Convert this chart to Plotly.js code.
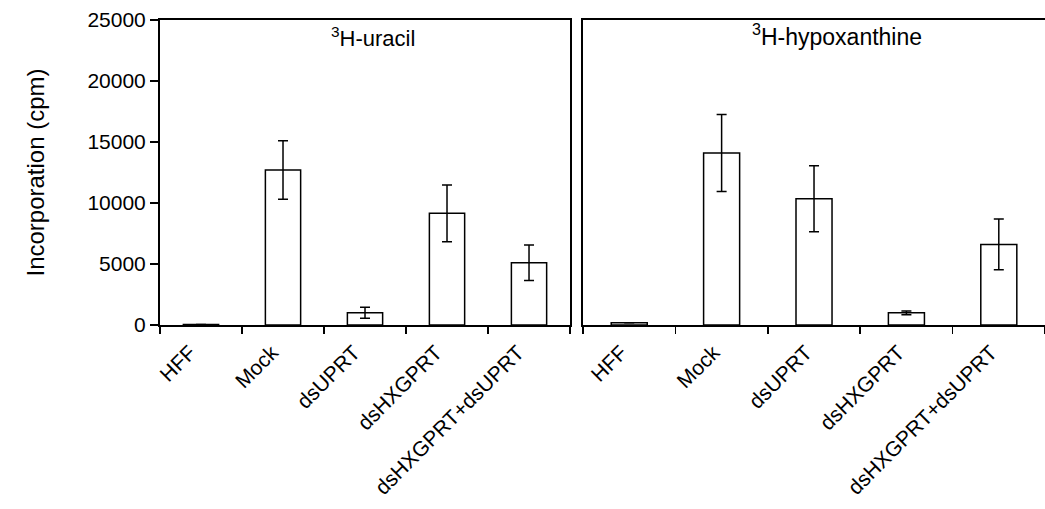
<!DOCTYPE html>
<html>
<head>
<meta charset="utf-8">
<script src="https://cdn.plot.ly/plotly-3.0.1.min.js"></script>
<style>html,body{margin:0;padding:0;background:#fff;}#chart{width:1045px;height:509px;}</style>
</head>
<body>
<div id="chart"></div>
<script>
const categories = ["HFF", "Mock", "dsUPRT", "dsHXGPRT", "dsHXGPRT+dsUPRT"];
const uracilValues = [40, 12700, 1000, 9150, 5100];
const uracilErrors = [0, 2400, 450, 2330, 1450];
const hypoxValues = [180, 14100, 10350, 1000, 6600];
const hypoxErrors = [0, 3150, 2700, 150, 2080];
const yTicks = [0, 5000, 10000, 15000, 20000, 25000];
const panelTitles = ["<sup>3</sup>H-uracil", "<sup>3</sup>H-hypoxanthine"];
const yTitle = "Incorporation (cpm)";

const FONT = "Liberation Sans, Arial, sans-serif";
const barStyle = {color: "#ffffff", line: {color: "#000000", width: 1.5}};
const errStyle = (arr) => ({type: "data", array: arr, visible: true, color: "#000000", thickness: 1.5, width: 5});

const traces = [
  {type: "bar", x: categories, y: uracilValues, error_y: errStyle(uracilErrors), marker: barStyle, width: 0.43, xaxis: "x", yaxis: "y", hoverinfo: "x+y"},
  {type: "bar", x: categories, y: hypoxValues, error_y: errStyle(hypoxErrors), marker: barStyle, width: 0.39, xaxis: "x2", yaxis: "y2", hoverinfo: "x+y"}
];

const xCommon = {
  type: "category", range: [-0.5, 4.5], showline: true, linecolor: "#000", linewidth: 2,
  mirror: true, ticks: "outside", ticklen: 7, tickwidth: 1.5, tickcolor: "#000",
  tickson: "boundaries", tickangle: -45, showgrid: false, zeroline: false,
  ticklabelstandoff: 5,
  tickfont: {family: FONT, size: 21, color: "#000"}
};

const layout = {
  width: 1045, height: 509,
  margin: {l: 160, r: 0, t: 20, b: 184},
  paper_bgcolor: "#fff", plot_bgcolor: "#fff",
  showlegend: false,
  bargap: 0,
  font: {family: FONT, color: "#000"},
  xaxis: Object.assign({}, xCommon, {domain: [0, 0.4633], anchor: "y", ticklabelshift: -11}),
  xaxis2: Object.assign({}, xCommon, {domain: [0.478, 1], anchor: "y2", ticklabelshift: -8}),
  yaxis: {
    range: [0, 25000], tickvals: yTicks, ticktext: yTicks.map(String),
    showline: true, linecolor: "#000", linewidth: 2, mirror: true,
    ticks: "outside", ticklen: 8, tickwidth: 1.5, tickcolor: "#000",
    showgrid: false, zeroline: false,
    tickfont: {family: FONT, size: 21, color: "#000"},
    title: {text: yTitle, font: {family: FONT, size: 24, color: "#000"}, standoff: 36},
    anchor: "x"
  },
  yaxis2: {
    range: [0, 25000], showline: true, linecolor: "#000", linewidth: 2, mirror: false,
    showticklabels: false, ticks: "", showgrid: false, zeroline: false, anchor: "x2"
  },
  annotations: [
    {xref: "x domain", yref: "paper", x: 0.52, y: 0.945, xanchor: "center", yanchor: "middle", text: panelTitles[0], showarrow: false, font: {family: FONT, size: 22, color: "#000"}},
    {xref: "x2 domain", yref: "paper", x: 0.55, y: 0.952, xanchor: "center", yanchor: "middle", text: panelTitles[1], showarrow: false, font: {family: FONT, size: 23, color: "#000"}}
  ]
};

Plotly.newPlot("chart", traces, layout, {displayModeBar: false, staticPlot: true});
</script>
</body>
</html>
